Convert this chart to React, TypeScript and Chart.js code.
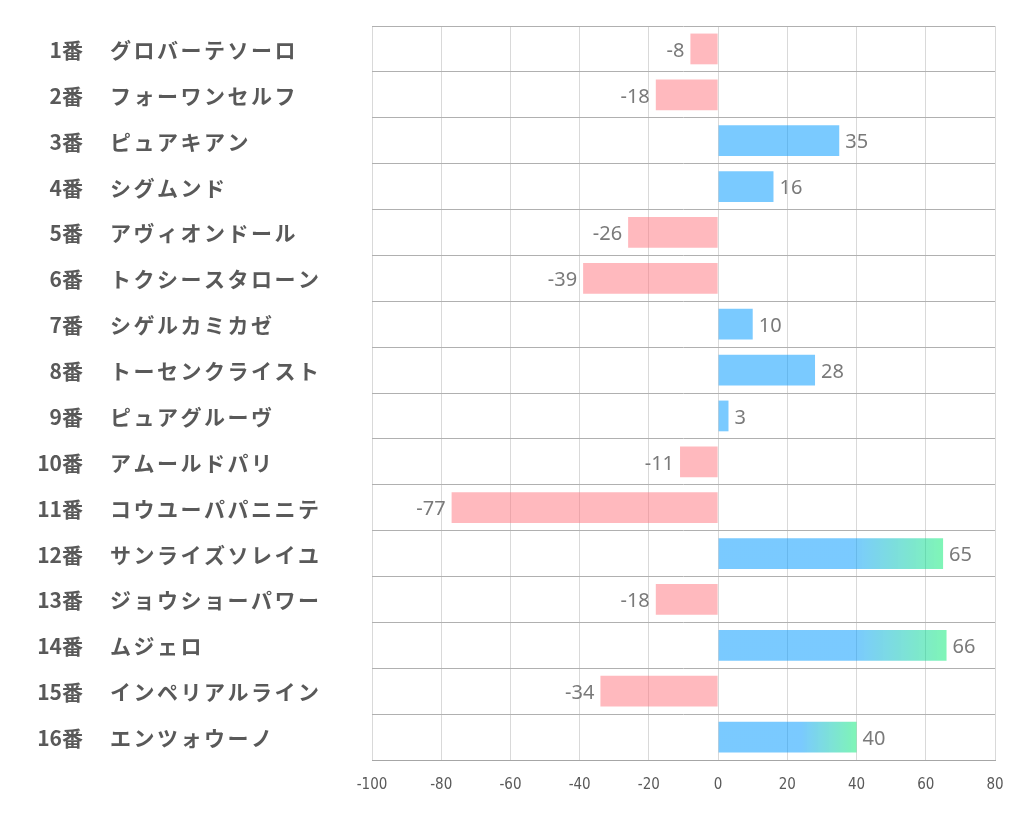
import React, { useEffect, useRef } from "react";
import { Chart, registerables } from "chart.js";

Chart.register(...registerables);

const numbers = ["1番","2番","3番","4番","5番","6番","7番","8番","9番","10番","11番","12番","13番","14番","15番","16番"];
const names = ["グロバーテソーロ","フォーワンセルフ","ピュアキアン","シグムンド","アヴィオンドール","トクシースタローン","シゲルカミカゼ","トーセンクライスト","ピュアグルーヴ","アムールドパリ","コウユーパパニニテ","サンライズソレイユ","ジョウショーパワー","ムジェロ","インペリアルライン","エンツォウーノ"];
const values = [-8, -18, 35, 16, -26, -39, 10, 28, 3, -11, -77, 65, -18, 66, -34, 40];
const xTicks = [-100, -80, -60, -40, -20, 0, 20, 40, 60, 80];

const BLUE = "rgba(0,153,255,0.52)";
const PINK = "rgba(255,115,125,0.5)";
const GREEN = "rgba(0,235,110,0.5)";

export default function App() {
  const ref = useRef<HTMLCanvasElement | null>(null);
  useEffect(() => {
    document.body.style.margin = "0";
    const labelPlugin = {
      id: "labels",
      afterDraw(chart: any) {
        const ctx = chart.ctx;
        const y = chart.scales.y;
        const x = chart.scales.x;
        ctx.save();
        ctx.textBaseline = "middle";
        ctx.fillStyle = "#595959";
        numbers.forEach((n, i) => {
          const py = y.getPixelForValue(i) + 1;
          ctx.font = "bold 21px 'Noto Sans CJK JP'";
          ctx.letterSpacing = "0px";
          ctx.textAlign = "right";
          ctx.fillText(n, 83, py);
          ctx.textAlign = "left";
          ctx.letterSpacing = "2.5px";
          ctx.fillText(names[i], 110, py);
        });
        ctx.letterSpacing = "0px";
        ctx.font = "20px 'Noto Sans'";
        ctx.fillStyle = "#7a7a7a";
        const meta = chart.getDatasetMeta(0);
        values.forEach((v, i) => {
          const bar = meta.data[i];
          const py = bar.y + 2;
          if (v >= 0) {
            ctx.textAlign = "left";
            ctx.fillText(String(v), x.getPixelForValue(v) + 6, py);
          } else {
            ctx.textAlign = "right";
            ctx.fillText(String(v), x.getPixelForValue(v) - 6, py);
          }
        });
        ctx.restore();
      },
    };
    const chart = new Chart(ref.current!, {
      type: "bar",
      data: {
        labels: names,
        datasets: [
          {
            data: values,
            backgroundColor: (c: any) => {
              const v = c.raw as number;
              if (v < 0) return PINK;
              if (v < 40) return BLUE;
              const chartArea = c.chart.chartArea;
              const xs = c.chart.scales.x;
              if (!chartArea || !xs) return BLUE;
              const x0 = xs.getPixelForValue(0);
              const x1 = xs.getPixelForValue(v);
              const g = c.chart.ctx.createLinearGradient(x0, 0, x1, 0);
              g.addColorStop(0, BLUE);
              g.addColorStop(0.6, BLUE);
              g.addColorStop(1, GREEN);
              return g;
            },
            borderWidth: 0,
            barPercentage: 0.67,
            categoryPercentage: 1,
          },
        ],
      },
      options: {
        indexAxis: "y",
        animation: false,
        responsive: false,
        layout: { padding: { left: 372, right: 27, top: 26, bottom: 24 } },
        plugins: { legend: { display: false }, tooltip: { enabled: false } },
        scales: {
          x: {
            min: -100,
            max: 80,
            afterBuildTicks: (s: any) => {
              s.ticks = xTicks.map((v) => ({ value: v }));
            },
            grid: { color: "#d9d9d9", drawTicks: false, lineWidth: 1 },
            border: { color: "#a6a6a6", width: 1 },
            ticks: { color: "#595959", font: { size: 15, family: "'Liberation Sans Narrow', 'DejaVu Sans Condensed', sans-serif" }, padding: 16 },
          },
          y: {
            grid: { color: "#b0b0b0", drawTicks: false, offset: true },
            border: { display: false },
            ticks: { display: false },
            afterFit: (s: any) => {
              s.width = 0;
            },
          },
        },
      },
      plugins: [labelPlugin],
    });
    return () => chart.destroy();
  }, []);
  return (
    <div style={{ position: "absolute", left: 0, top: 0, width: 1022, height: 834 }}>
      <canvas ref={ref} width={1022} height={834} style={{ width: 1022, height: 834 }} />
    </div>
  );
}
